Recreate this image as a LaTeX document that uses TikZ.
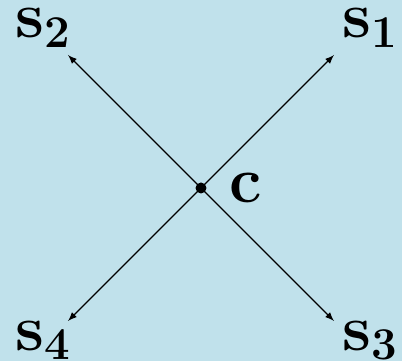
\documentclass[tikz,border=0pt]{standalone}
\usepackage{fix-cm}
\usetikzlibrary{arrows}
\usetikzlibrary{math, positioning}
\definecolor{mybg}{RGB}{192,225,235}

\tikzset{
lbl/.style={anchor=base west, inner sep=0pt, font=\fontsize{37}{44}\selectfont},
}

\begin{document}
\begin{tikzpicture}[x=0.02cm, y=0.02cm]
\tikzmath{
\d=133;
}
\fill[color=mybg] (-201,-173) rectangle (201,188);

\node[circle, fill, inner sep=0pt, minimum size=0.22cm] (c) at (0,0) {};
\coordinate (t1) at (\d,\d);
\coordinate (t2) at (-\d,\d);
\coordinate (t3) at (\d,-\d);
\coordinate (t4) at (-\d,-\d);

\draw[-latex, line width=0.75] (c.center) -- (t1);
\draw[-latex, line width=0.75] (c.center) -- (t2);
\draw[-latex, line width=0.75] (c.center) -- (t3);
\draw[-latex, line width=0.75] (c.center) -- (t4);

\node[lbl] (s1) at (141,150) {$\mathbf{s}_{\mathbf{1}}$};
\node[lbl] (s2) at (-186,150) {$\mathbf{s}_{\mathbf{2}}$};
\node[lbl] (s3) at (141,-162) {$\mathbf{s}_{\mathbf{3}}$};
\node[lbl] (s4) at (-186,-162) {$\mathbf{s}_{\mathbf{4}}$};
\node[lbl] (cl) at (28,-15) {$\mathbf{c}$};
\end{tikzpicture}
\end{document}
